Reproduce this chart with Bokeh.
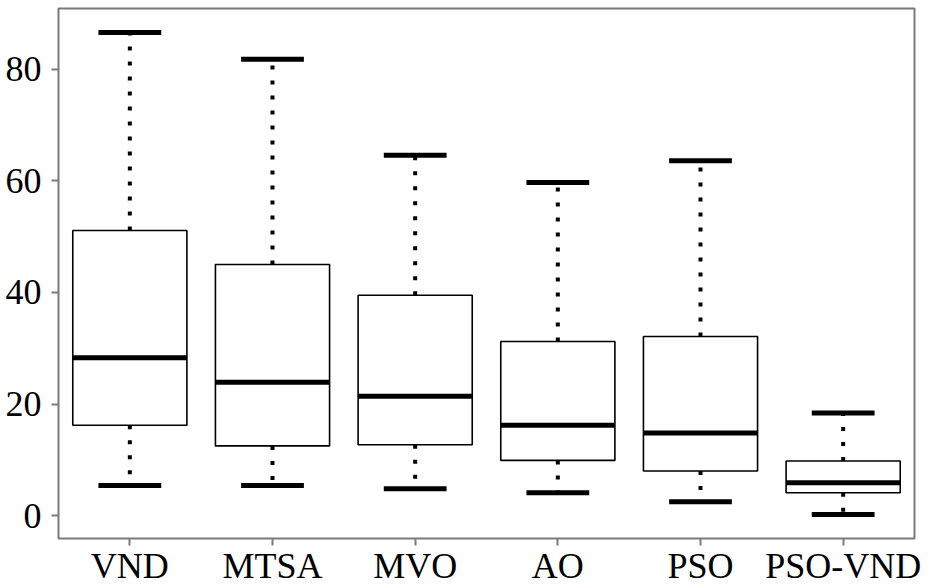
from bokeh.plotting import figure
from bokeh.models import Range1d, FixedTicker, ColumnDataSource
from bokeh.embed import file_html
from bokeh.resources import INLINE

# Data
categories = ["VND", "MTSA", "MVO", "AO", "PSO", "PSO-VND"]
whisker_low = [5.4, 5.4, 4.8, 4.1, 2.5, 0.2]
q1 = [16.2, 12.5, 12.7, 9.9, 8.0, 4.1]
median = [28.3, 23.9, 21.4, 16.2, 14.8, 5.9]
q3 = [51.1, 45.0, 39.5, 31.2, 32.1, 9.8]
whisker_high = [86.6, 81.8, 64.6, 59.7, 63.6, 18.4]
y_ticks = [0, 20, 40, 60, 80]

xs = list(range(1, len(categories) + 1))
box_half = 0.4
cap_half = 0.22

src = ColumnDataSource(dict(
    x=xs,
    box_l=[x - box_half for x in xs],
    box_r=[x + box_half for x in xs],
    cap_l=[x - cap_half for x in xs],
    cap_r=[x + cap_half for x in xs],
    lo=whisker_low, q1=q1, med=median, q3=q3, hi=whisker_high,
))

p = figure(width=935, height=588, output_backend="svg", toolbar_location=None,
           x_range=Range1d(0.5, 6.5), y_range=Range1d(-4.1, 90.9),
           min_border_left=58, min_border_right=21, min_border_top=8,
           min_border_bottom=40)

p.xgrid.visible = False
p.ygrid.visible = False
p.outline_line_color = "#7a7a7a"
p.outline_line_width = 2
p.background_fill_color = "white"
p.border_fill_color = "white"

# whiskers (dotted)
p.segment(x0="x", y0="q3", x1="x", y1="hi", source=src, line_color="black",
          line_width=4, line_dash="4 11")
p.segment(x0="x", y0="q1", x1="x", y1="lo", source=src, line_color="black",
          line_width=4, line_dash="4 11")
# caps
p.segment(x0="cap_l", y0="hi", x1="cap_r", y1="hi", source=src, line_color="black", line_width=5)
p.segment(x0="cap_l", y0="lo", x1="cap_r", y1="lo", source=src, line_color="black", line_width=5)
# boxes
p.quad(left="box_l", right="box_r", bottom="q1", top="q3", source=src,
       fill_color="white", line_color="black", line_width=1.6)
# medians
p.segment(x0="box_l", y0="med", x1="box_r", y1="med", source=src, line_color="black", line_width=5)

font = "Liberation Serif"
for ax in (p.xaxis[0], p.yaxis[0]):
    ax.axis_line_color = None
    ax.major_tick_line_color = "#7a7a7a"
    ax.major_tick_line_width = 2
    ax.major_tick_in = 0
    ax.major_tick_out = 7
    ax.minor_tick_line_color = None
    ax.major_label_text_font = font
    ax.major_label_text_font_size = "36px"
    ax.major_label_text_color = "black"

p.yaxis.ticker = FixedTicker(ticks=y_ticks)
p.yaxis.major_label_standoff = 10
p.xaxis.ticker = FixedTicker(ticks=xs)
p.xaxis.major_label_overrides = {x: c for x, c in zip(xs, categories)}
p.xaxis.major_label_standoff = 0

open("out.html", "w").write(file_html(p, INLINE))
